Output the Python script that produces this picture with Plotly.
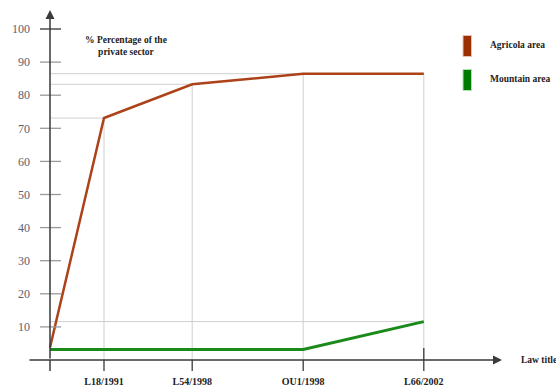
import plotly.graph_objects as go

# ---- data ----
law_titles = ["", "L18/1991", "L54/1998", "OU1/1998", "L66/2002"]
law_pos = [0, 0.9, 2.37, 4.22, 6.23]          # horizontal spacing of the laws on the axis
agricola = [3.8, 73.1, 83.3, 86.5, 86.5]      # % private sector, agricola area
mountain = [3.2, 3.2, 3.2, 3.2, 11.6]         # % private sector, mountain area
y_ticks = [10, 20, 30, 40, 50, 60, 70, 80, 90, 100]

RED = "#ad4219"
GREEN = "#1a8a1a"
GRID = "#cfcfcf"
AXIS = "#3a3a3a"
SERIF = "'Liberation Serif', 'Times New Roman', 'DejaVu Serif', serif"

W, H = 556, 388
ML, MB = 31, 14
PW, PH = W - ML, H - MB
UNIT = 60.0       # px per x unit
X0PX = 50         # px of origin
Y0PX = 360        # px of y=0
YS = 3.31         # px per y unit

x_range = [(ML - X0PX) / UNIT, (W - X0PX) / UNIT]
y_range = [(Y0PX - PH) / YS, Y0PX / YS]

fig = go.Figure()

shapes = []
def seg(x0, y0, x1, y1, color, width, layer="below"):
    shapes.append(dict(type="line", xref="x", yref="y", x0=x0, y0=y0, x1=x1, y1=y1,
                       line=dict(color=color, width=width), layer=layer))

# horizontal guides to each level
seg(0, agricola[1], law_pos[1], agricola[1], GRID, 1)
seg(0, agricola[2], law_pos[2], agricola[2], GRID, 1)
seg(0, agricola[3], law_pos[4], agricola[3], GRID, 1)
seg(0, mountain[4], law_pos[4], mountain[4], GRID, 1)
# vertical guides
for i in range(1, 5):
    seg(law_pos[i], 0, law_pos[i], agricola[i], GRID, 1)

# y tick marks
for v in y_ticks:
    seg(-10 / UNIT, v, 11 / UNIT, v, "#333333" if v == 100 else "#9a9a9a", 1.3, "above")
# x tick marks
for i in range(1, 5):
    seg(law_pos[i], -3.3, law_pos[i], 3.6 if i == 4 else 0, AXIS, 1.3, "above")
# y axis extension below x axis
seg(0, 0, 0, -3.3, AXIS, 1.5, "above")

fig.add_trace(go.Scatter(x=law_pos, y=agricola, mode="lines", name="Agricola area",
                         line=dict(color=RED, width=2.5), showlegend=False))
fig.add_trace(go.Scatter(x=law_pos, y=mountain, mode="lines", name="Mountain area",
                         line=dict(color=GREEN, width=3), showlegend=False))

def px2paper_x(px):
    return (px - ML) / PW
def px2paper_y(py):
    return (PH - py) / PH

annotations = []
annotations.append(dict(x=(502 - X0PX) / UNIT, y=0, ax=(28 - X0PX) / UNIT, ay=0,
                        xref="x", yref="y", axref="x", ayref="y", text="", showarrow=True,
                        arrowhead=2, arrowsize=1.2, arrowwidth=1.5, arrowcolor=AXIS, standoff=0))
annotations.append(dict(x=0, y=(Y0PX - 10) / YS, ax=0, ay=0,
                        xref="x", yref="y", axref="x", ayref="y", text="", showarrow=True,
                        arrowhead=2, arrowsize=1.2, arrowwidth=1.5, arrowcolor=AXIS, standoff=0))
annotations.append(dict(x=px2paper_x(126), y=px2paper_y(46), xref="paper", yref="paper",
                        text="<b>% Percentage of the<br>private sector</b>", showarrow=False,
                        font=dict(family=SERIF, size=9.5, color="#222222"), align="center",
                        xanchor="center", yanchor="middle"))
annotations.append(dict(x=px2paper_x(519), y=px2paper_y(360), xref="paper", yref="paper",
                        text="<b>Law title</b>", showarrow=False, xanchor="left", yanchor="middle",
                        font=dict(family=SERIF, size=9.5, color="#222222")))
for name, color, border, cy in [("Agricola area", "#9a3000", "#e8c0b0", 46),
                                ("Mountain area", "#007a00", "#b0e0b0", 80)]:
    shapes.append(dict(type="rect", xref="paper", yref="paper",
                       x0=px2paper_x(463), x1=px2paper_x(471.5),
                       y0=px2paper_y(cy - 10.5), y1=px2paper_y(cy + 10.5),
                       fillcolor=color, line=dict(color=border, width=1)))
    annotations.append(dict(x=px2paper_x(488), y=px2paper_y(cy - 1), xref="paper", yref="paper",
                            text="<b>" + name + "</b>", showarrow=False, xanchor="left",
                            yanchor="middle", font=dict(family=SERIF, size=9.5, color="#222222")))

fig.update_layout(
    width=W, height=H, margin=dict(l=ML, r=0, t=0, b=MB),
    paper_bgcolor="white", plot_bgcolor="white",
    font=dict(family=SERIF),
    shapes=shapes, annotations=annotations,
    xaxis=dict(range=x_range, showgrid=False, zeroline=False, showline=False, ticks="",
               tickvals=law_pos[1:], ticktext=["<b>" + t + "</b>" for t in law_titles[1:]],
               tickfont=dict(family=SERIF, size=10, color="#222222"), fixedrange=True),
    yaxis=dict(range=y_range, showgrid=False, zeroline=False, showline=False, ticks="",
               tickvals=y_ticks, tickfont=dict(family=SERIF, size=12, color="#5a6070"),
               fixedrange=True),
    showlegend=False,
)

fig.write_html("out.html", config={"displayModeBar": False})
